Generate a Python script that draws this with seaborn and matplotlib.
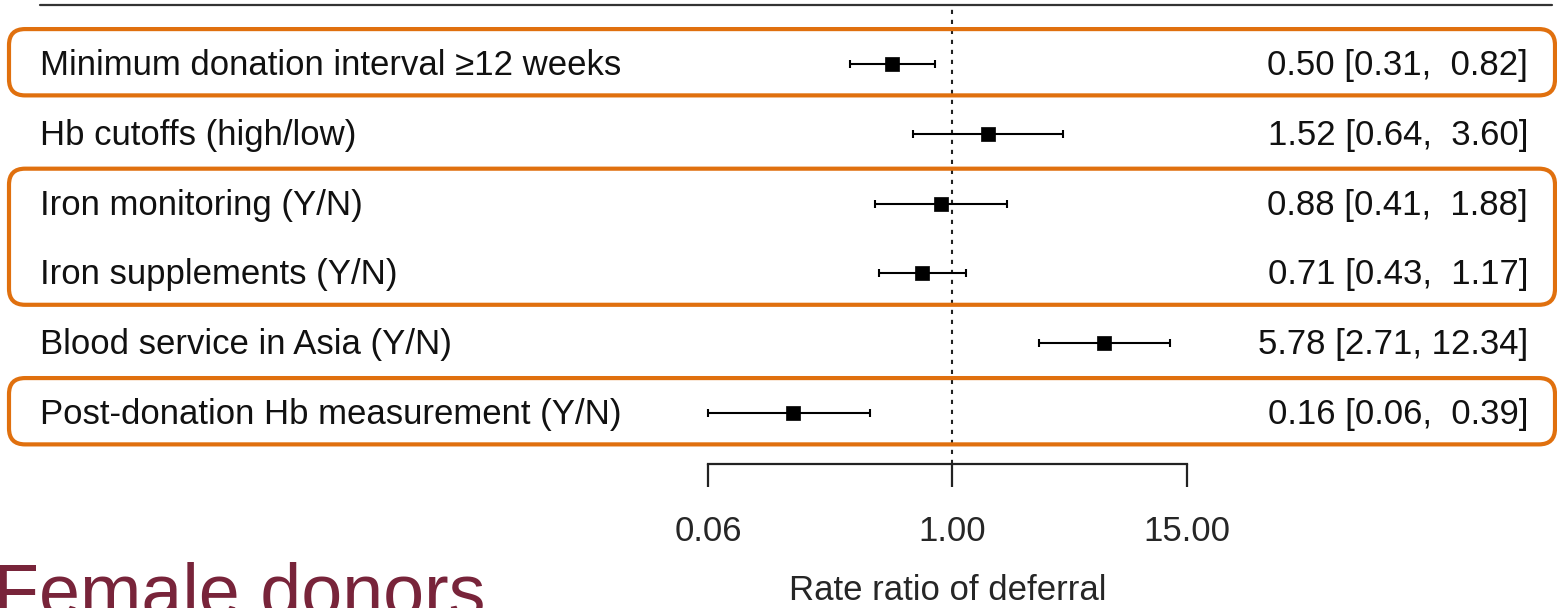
import numpy as np
import pandas as pd
import matplotlib
matplotlib.use("Agg")
import matplotlib.pyplot as plt
import matplotlib.transforms as mtransforms
from matplotlib.lines import Line2D
from matplotlib.patches import FancyBboxPatch
import seaborn as sns

# ---- data ----
labels = [
    "Minimum donation interval \u226512 weeks",
    "Hb cutoffs (high/low)",
    "Iron monitoring (Y/N)",
    "Iron supplements (Y/N)",
    "Blood service in Asia (Y/N)",
    "Post-donation Hb measurement (Y/N)",
]
estimate = [0.50, 1.52, 0.88, 0.71, 5.78, 0.16]
ci_low = [0.31, 0.64, 0.41, 0.43, 2.71, 0.06]
ci_high = [0.82, 3.60, 1.88, 1.17, 12.34, 0.39]
value_text = [
    "0.50 [0.31,  0.82]",
    "1.52 [0.64,  3.60]",
    "0.88 [0.41,  1.88]",
    "0.71 [0.43,  1.17]",
    "5.78 [2.71, 12.34]",
    "0.16 [0.06,  0.39]",
]
tick_values = [0.06, 1.00, 15.00]
tick_labels = ["0.06", "1.00", "15.00"]
highlight_groups = [[0], [2, 3], [5]]  # rows framed together
x_label = "Rate ratio of deferral"
panel_title = "Female donors"

# ---- styling ----
sns.set_theme(style="white")
plt.rcParams["font.family"] = ["Liberation Sans", "DejaVu Sans"]

W, H, DPI = 1557, 608, 100
ORANGE = "#E0700E"
MAROON = "#78243A"
FS = 25

fig = plt.figure(figsize=(W / DPI, H / DPI), dpi=DPI)
fig.patch.set_facecolor("white")

# forest panel: x axis spans the tick range, rows 6..1 from top
ax = fig.add_axes([708 / W, (H - 464) / H, (1187 - 708) / W, (464 - 5) / H])
ax.set_facecolor("none")
ax.set_xscale("log")
ax.set_xlim(tick_values[0], tick_values[-1])
ax.set_ylim(0.269, 6.845)

n = len(labels)
df = pd.DataFrame({
    "label": labels,
    "est": estimate,
    "lo": ci_low,
    "hi": ci_high,
    "row": np.arange(n, 0, -1),
})

# confidence intervals with end caps
ax.errorbar(df["est"], df["row"],
            xerr=[df["est"] - df["lo"], df["hi"] - df["est"]],
            fmt="none", ecolor="black", elinewidth=1.5,
            capsize=3, capthick=1.5, zorder=3, clip_on=False)
# point estimates
sns.scatterplot(data=df, x="est", y="row", marker="s", s=110,
                color="black", edgecolor="black", linewidth=0.5,
                ax=ax, zorder=4, legend=False, clip_on=False)

# reference line at 1
ax.plot([1, 1], [0.269, 6.845], color="#222222", lw=1.5,
        linestyle=(0, (2, 2.8)), zorder=2, clip_on=False)

# axis
for side in ["top", "right", "left"]:
    ax.spines[side].set_visible(False)
ax.spines["bottom"].set_color("#222222")
ax.spines["bottom"].set_linewidth(1.6)
ax.set_xticks(tick_values)
ax.set_xticklabels(tick_labels, fontsize=FS)
ax.xaxis.set_minor_locator(matplotlib.ticker.NullLocator())
ax.tick_params(axis="x", direction="out", length=16.5, width=1.6,
               color="#222222", pad=20, bottom=True)
ax.set_yticks([])
ax.set_xlabel(x_label, fontsize=FS, labelpad=19)
ax.set_ylabel("")

# top rule
fig_y = mtransforms.blended_transform_factory(fig.transFigure, ax.transData)
fig.add_artist(Line2D([40 / W, 1552 / W], [6.845, 6.845], transform=fig_y,
                      color="#333333", lw=1.6))

# row labels and values
text_tr = mtransforms.offset_copy(fig_y, fig=fig, y=-11, units="dots")
for r, lab, val in zip(df["row"], labels, value_text):
    fig.text(40 / W, r, lab, transform=text_tr, fontsize=FS,
             ha="left", va="baseline", color="#111111")
    fig.text(1528 / W, r, val, transform=text_tr, fontsize=FS,
             ha="right", va="baseline", color="#111111")

# rounded frames around highlighted rows
for grp in highlight_groups:
    top_row = df["row"].iloc[grp[0]] + 0.50
    bot_row = df["row"].iloc[grp[-1]] - 0.45
    _, y_top = ax.transData.transform((1, top_row))
    _, y_bot = ax.transData.transform((1, bot_row))
    box = FancyBboxPatch((9, y_bot), 1555 - 9, y_top - y_bot,
                         boxstyle="round,pad=0,rounding_size=16",
                         transform=mtransforms.IdentityTransform(),
                         facecolor="none", edgecolor=ORANGE, lw=3.0,
                         zorder=5)
    fig.add_artist(box)

# panel title
fig.text(-6 / W, -7 / H, panel_title, fontsize=53, color=MAROON,
         ha="left", va="baseline")

fig.savefig("out.png", dpi=DPI, facecolor="white")
